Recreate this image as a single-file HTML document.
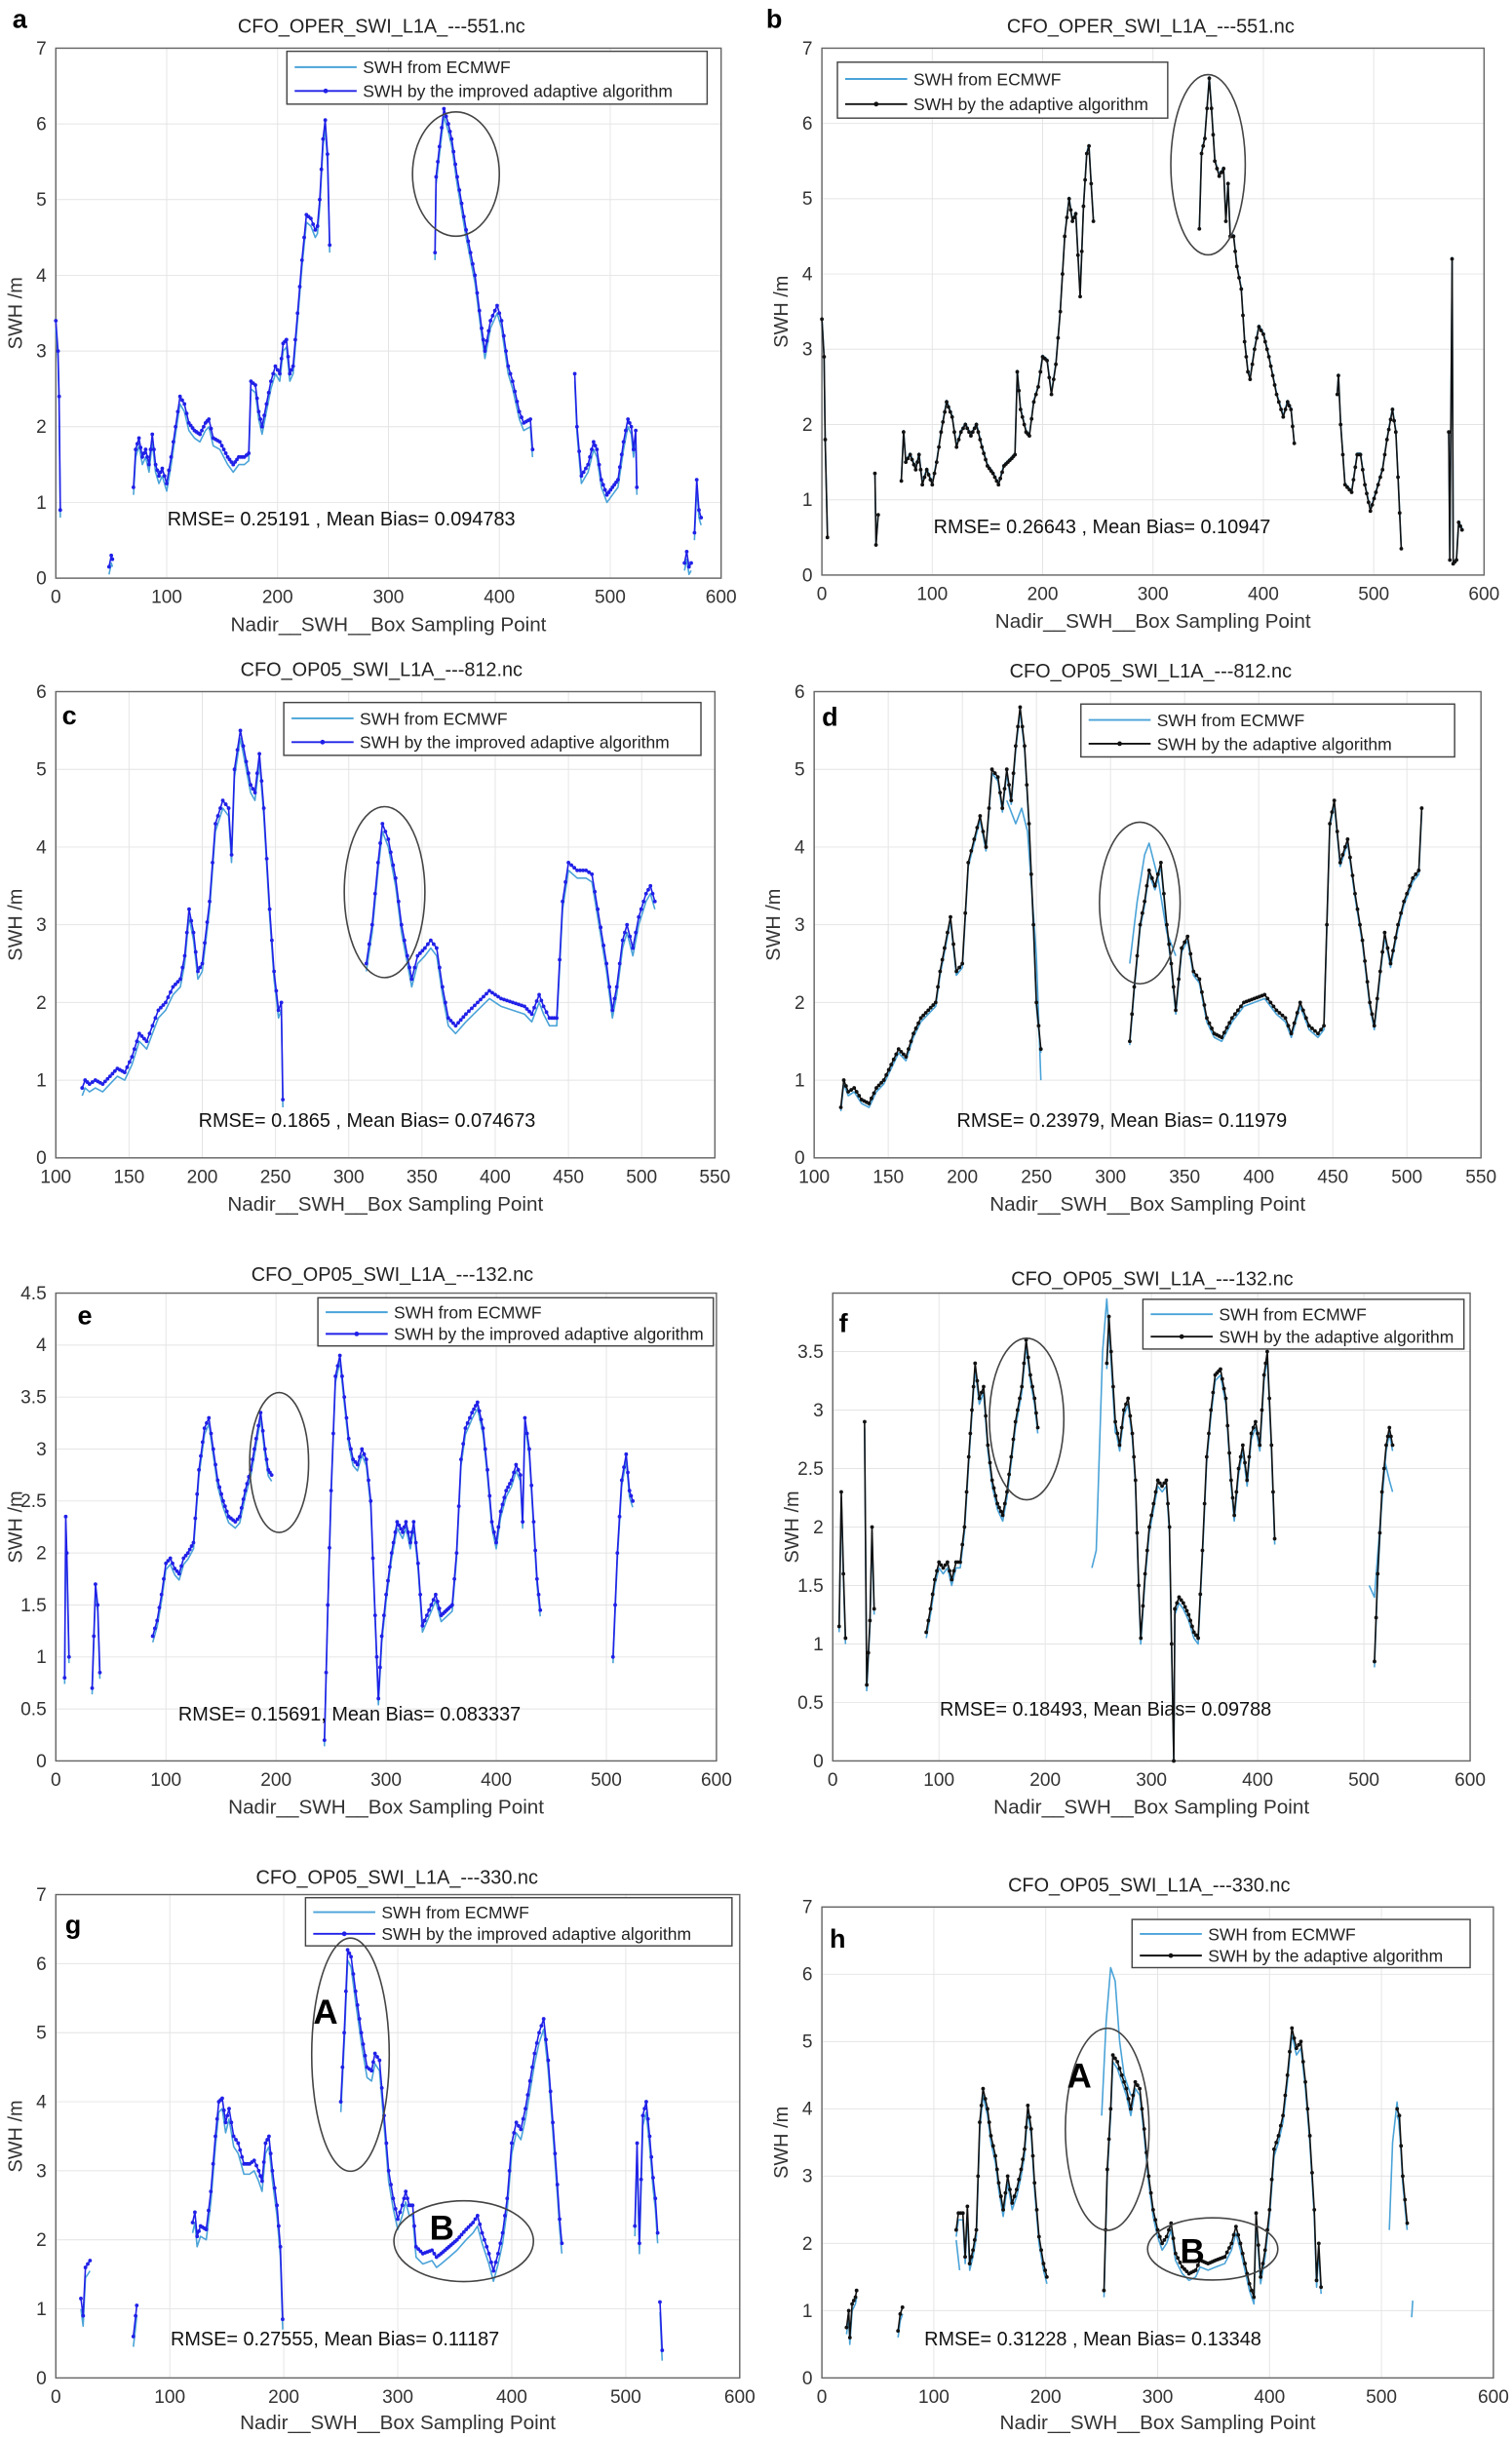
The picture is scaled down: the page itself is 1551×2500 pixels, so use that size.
<!DOCTYPE html>
<html><head><meta charset="utf-8"><style>
html,body{margin:0;padding:0;background:#fff;}
svg{display:block;}
text{font-family:"Liberation Sans",sans-serif;}
</style></head><body>
<svg id="s" width="1551" height="2500" viewBox="0 0 975 1568" preserveAspectRatio="none" xmlns="http://www.w3.org/2000/svg"></svg>
<script>
const S=document.getElementById('s');
const NS='http://www.w3.org/2000/svg';
function el(t,a,txt){const e=document.createElementNS(NS,t);for(const k in a)e.setAttribute(k,a[k]);if(txt!=null)e.textContent=txt;S.appendChild(e);return e;}
const ECM='#4aa3d8';
function panel(p){
 const {L,R,T,B,x0,x1,y0,y1}=p;
 const X=v=>L+(v-x0)/(x1-x0)*(R-L), Y=v=>B-(v-y0)/(y1-y0)*(B-T);
 el('rect',{x:L,y:T,width:R-L,height:B-T,fill:'#fff'});
 p.xt.forEach(v=>{el('line',{x1:X(v),x2:X(v),y1:T,y2:B,stroke:'#e4e4e4','stroke-width':0.6});
   el('text',{x:X(v),y:B+16,'font-size':12,'text-anchor':'middle',fill:'#333'},String(v));});
 p.yt.forEach(v=>{el('line',{x1:L,x2:R,y1:Y(v),y2:Y(v),stroke:'#e4e4e4','stroke-width':0.6});
   el('text',{x:L-6,y:Y(v)+4,'font-size':12,'text-anchor':'end',fill:'#333'},String(v));});
 el('rect',{x:L,y:T,width:R-L,height:B-T,fill:'none',stroke:'#666','stroke-width':0.9});
 const col=p.blue?'#2020e8':'#111';
 const drawLine=(seg,c,w)=>el('polyline',{points:seg.map(q=>X(q[0]).toFixed(1)+','+Y(q[1]).toFixed(1)).join(' '),fill:'none',stroke:c,'stroke-width':w,'stroke-linejoin':'round'});
 p.d.forEach(seg=>{drawLine(seg.map(q=>[q[0],Math.max(0,q[1]-(p.bias||0.1))]),ECM,1);});
 (p.ex||[]).forEach(seg=>drawLine(seg,ECM,1));
 p.d.forEach(seg=>{drawLine(seg,col,1);
   for(let i=0;i<seg.length-1;i++){const a=seg[i],b=seg[i+1];const n=Math.max(1,Math.round((b[0]-a[0])/2));
     for(let k=0;k<n;k++){const t=k/n;el('circle',{cx:X(a[0]+(b[0]-a[0])*t),cy:Y(a[1]+(b[1]-a[1])*t),r:1.2,fill:col});}}
   const l=seg[seg.length-1];el('circle',{cx:X(l[0]),cy:Y(l[1]),r:1.2,fill:col});});
 el('text',{x:p.tx,y:p.ty,'font-size':12.5,'text-anchor':'middle',fill:'#222'},p.title);
 el('text',{x:(L+R)/2,y:Math.min(B+34,1563),'font-size':13,'text-anchor':'middle',fill:'#333'},'Nadir__SWH__Box   Sampling Point');
 el('text',{x:0,y:0,'font-size':12.5,'text-anchor':'middle',fill:'#333',transform:`translate(${L-22},${(T+B)/2}) rotate(-90)`},'SWH /m');
 el('text',{x:p.rx,y:p.ry,'font-size':12.5,fill:'#111'},p.rm);
 const g=p.lg;
 el('rect',{x:g[0],y:g[1],width:g[2]-g[0],height:g[3]-g[1],fill:'#fff',stroke:'#444','stroke-width':0.9});
 const h=(g[3]-g[1]);
 el('line',{x1:g[0]+5,x2:g[0]+45,y1:g[1]+h*0.3,y2:g[1]+h*0.3,stroke:ECM,'stroke-width':1.2});
 el('line',{x1:g[0]+5,x2:g[0]+45,y1:g[1]+h*0.75,y2:g[1]+h*0.75,stroke:col,'stroke-width':1.2});
 el('circle',{cx:g[0]+25,cy:g[1]+h*0.75,r:1.5,fill:col});
 el('text',{x:g[0]+49,y:g[1]+h*0.3+4,'font-size':11,fill:'#222'},'SWH from ECMWF');
 el('text',{x:g[0]+49,y:g[1]+h*0.75+4,'font-size':11,fill:'#222'},p.blue?'SWH by the improved adaptive algorithm':'SWH by the adaptive algorithm');
 (p.el||[]).forEach(e=>el('ellipse',{cx:e[0],cy:e[1],rx:e[2],ry:e[3],fill:'none',stroke:'#444','stroke-width':1}));
 (p.lab||[]).forEach(e=>el('text',{x:e[0],y:e[1],'font-size':e[3]||17,'font-weight':'bold',fill:'#000'},e[2]));
}
const X6=[0,100,200,300,400,500,600],Y7=[0,1,2,3,4,5,6,7];
const XC=[100,150,200,250,300,350,400,450,500,550],Y6=[0,1,2,3,4,5,6];
panel({L:36,R:465,T:31,B:372,x0:0,x1:600,y0:0,y1:7,xt:X6,yt:Y7,blue:1,title:'CFO_OPER_SWI_L1A_---551.nc',tx:246,ty:21,
 rm:'RMSE= 0.25191 , Mean Bias= 0.094783',rx:108,ry:338,lg:[185,33,456,67],el:[[294,112,28,40]],lab:[[8,18,'a',17]],
 d:[[[0,3.4],[2,3.0],[3,2.4],[4,0.9]],[[48,0.15],[50,0.3],[51,0.25]],
 [[70,1.2],[72,1.7],[75,1.85],[78,1.6],[81,1.7],[84,1.5],[87,1.9],[90,1.5],[93,1.35],[96,1.45],[100,1.25],[104,1.6],[108,2.0],[112,2.4],[116,2.3],[120,2.05],[125,1.95],[130,1.9],[135,2.05],[138,2.1],[142,1.85],[148,1.8],[155,1.6],[160,1.5],[165,1.6],[170,1.6],[174,1.65],[176,2.6],[180,2.55],[183,2.2],[186,2.0],[190,2.3],[194,2.6],[198,2.8],[202,2.7],[205,3.1],[208,3.15],[211,2.7],[214,2.8],[218,3.5],[222,4.2],[226,4.8],[230,4.75],[234,4.6],[236,4.65],[238,5.0],[241,5.8],[243,6.05],[245,5.6],[247,4.4]],
 [[342,4.3],[343,5.3],[346,5.7],[350,6.2],[354,6.0],[357,5.8],[362,5.3],[370,4.6],[378,4.0],[384,3.3],[387,3.0],[392,3.4],[398,3.6],[402,3.4],[408,2.8],[412,2.6],[418,2.2],[422,2.05],[428,2.1],[430,1.7]],
 [[468,2.7],[470,2.0],[474,1.35],[480,1.5],[485,1.8],[488,1.7],[492,1.3],[497,1.1],[502,1.2],[507,1.3],[512,1.8],[516,2.1],[519,2.0],[521,1.7],[523,1.95],[524,1.2]],
 [[567,0.2],[569,0.35],[571,0.15],[573,0.2]],[[576,0.6],[578,1.3],[580,0.9],[582,0.8]]]});
panel({L:530,R:957,T:31,B:370,x0:0,x1:600,y0:0,y1:7,xt:X6,yt:Y7,blue:0,title:'CFO_OPER_SWI_L1A_---551.nc',tx:742,ty:21,
 rm:'RMSE= 0.26643 , Mean Bias= 0.10947',rx:602,ry:343,lg:[540,40,753,76],el:[[779,106,24,58]],lab:[[494,18,'b',17]],
 d:[[[0,3.4],[2,2.9],[3,1.8],[5,0.5]],[[48,1.35],[49,0.4],[51,0.8]],
 [[72,1.25],[74,1.9],[76,1.5],[80,1.6],[85,1.4],[88,1.6],[91,1.2],[95,1.4],[100,1.2],[104,1.5],[108,1.9],[113,2.3],[118,2.1],[122,1.7],[126,1.9],[130,2.0],[135,1.85],[140,2.0],[145,1.7],[150,1.45],[155,1.35],[160,1.2],[165,1.45],[172,1.55],[175,1.6],[177,2.7],[180,2.2],[185,1.9],[188,1.85],[192,2.3],[196,2.5],[200,2.9],[204,2.85],[208,2.4],[212,2.8],[216,3.5],[220,4.5],[224,5.0],[227,4.7],[230,4.8],[234,3.7],[237,4.9],[240,5.6],[242,5.7],[244,5.2],[246,4.7]],
 [[342,4.6],[344,5.6],[347,5.8],[351,6.6],[353,6.2],[356,5.5],[360,5.3],[364,5.4],[366,4.7],[368,5.2],[370,4.5],[373,4.5],[376,4.1],[380,3.8],[383,3.1],[386,2.7],[388,2.6],[392,3.0],[396,3.3],[400,3.2],[405,2.9],[412,2.4],[418,2.1],[422,2.3],[425,2.2],[428,1.75]],
 [[467,2.4],[468,2.65],[470,2.0],[474,1.2],[480,1.1],[485,1.6],[488,1.6],[492,1.2],[497,0.85],[502,1.1],[508,1.4],[512,1.8],[517,2.2],[520,1.9],[522,1.3],[525,0.35]],
 [[568,1.9],[569,0.2],[571,4.2],[572,0.15],[575,0.2],[577,0.7],[580,0.6]]],bias:-0.02});
panel({L:36,R:461,T:445,B:745,x0:100,x1:550,y0:0,y1:6,xt:XC,yt:Y6,blue:1,title:'CFO_OP05_SWI_L1A_---812.nc',tx:246,ty:435,
 rm:'RMSE= 0.1865 , Mean Bias= 0.074673',rx:128,ry:725,lg:[183,452,452,486],el:[[248,574,26,55]],lab:[[40,466,'c',17]],
 d:[[[118,0.9],[120,1.0],[123,0.95],[127,1.0],[132,0.95],[137,1.05],[142,1.15],[147,1.1],[152,1.3],[157,1.6],[162,1.5],[166,1.7],[170,1.9],[175,2.0],[180,2.2],[185,2.3],[188,2.6],[191,3.2],[194,2.9],[197,2.4],[200,2.5],[205,3.3],[209,4.3],[214,4.6],[218,4.5],[220,3.9],[222,5.0],[226,5.5],[230,5.1],[233,4.8],[236,4.7],[239,5.2],[242,4.5],[246,3.2],[249,2.4],[252,1.9],[254,2.0],[255,0.75]],
 [[312,2.5],[316,3.0],[320,3.8],[323,4.3],[327,4.1],[332,3.6],[336,3.0],[340,2.6],[343,2.3],[347,2.6],[352,2.7],[356,2.8],[360,2.7],[364,2.2],[368,1.8],[373,1.7],[380,1.85],[388,2.0],[396,2.15],[404,2.05],[412,2.0],[420,1.95],[425,1.85],[430,2.1],[433,1.95],[437,1.8],[442,1.8],[446,3.3],[450,3.8],[456,3.7],[462,3.7],[466,3.65],[470,3.2],[476,2.5],[480,1.9],[483,2.2],[487,2.8],[490,3.0],[494,2.7],[498,3.1],[503,3.4],[506,3.5],[509,3.3]]]});
panel({L:525,R:955,T:445,B:745,x0:100,x1:550,y0:0,y1:6,xt:XC,yt:Y6,blue:0,title:'CFO_OP05_SWI_L1A_---812.nc',tx:742,ty:436,
 rm:'RMSE= 0.23979, Mean Bias= 0.11979',rx:617,ry:725,lg:[697,453,938,487],el:[[735,581,26,52]],lab:[[530,467,'d',17]],
 ex:[[[313,2.5],[318,3.3],[323,3.9],[326,4.05],[332,3.6],[338,2.9],[344,2.6]],[[230,4.6],[236,4.3],[240,4.5],[244,4.2],[250,2.6],[253,1.0]]],
 d:[[[118,0.65],[120,1.0],[123,0.85],[127,0.9],[132,0.75],[137,0.7],[142,0.9],[147,1.0],[152,1.2],[157,1.4],[162,1.3],[167,1.6],[172,1.8],[177,1.9],[182,2.0],[185,2.4],[188,2.7],[192,3.1],[196,2.4],[200,2.5],[204,3.8],[208,4.1],[212,4.4],[216,4.0],[220,5.0],[224,4.9],[227,4.5],[230,5.0],[233,4.6],[236,5.3],[239,5.8],[242,5.3],[245,4.3],[248,3.0],[250,2.0],[253,1.4]],
 [[313,1.5],[316,2.2],[320,3.0],[323,3.3],[326,3.7],[330,3.5],[334,3.8],[338,3.0],[341,2.5],[344,1.9],[348,2.7],[352,2.85],[356,2.4],[360,2.3],[365,1.8],[370,1.6],[375,1.55],[382,1.8],[390,2.0],[397,2.05],[404,2.1],[412,1.9],[418,1.8],[422,1.6],[428,2.0],[434,1.7],[440,1.6],[444,1.7],[448,4.3],[451,4.6],[455,3.8],[460,4.1],[465,3.4],[470,2.8],[475,2.0],[478,1.7],[482,2.4],[485,2.9],[489,2.5],[494,3.0],[498,3.3],[504,3.6],[508,3.7],[510,4.5]]],bias:0.05});
panel({L:36,R:462,T:832,B:1133,x0:0,x1:600,y0:0,y1:4.5,xt:X6,yt:[0,0.5,1,1.5,2,2.5,3,3.5,4,4.5],blue:1,title:'CFO_OP05_SWI_L1A_---132.nc',tx:253,ty:824,
 rm:'RMSE= 0.15691, Mean Bias= 0.083337',rx:115,ry:1107,lg:[205,835,460,866],el:[[180,941,19,45]],lab:[[50,852,'e',17]],
 d:[[[8,0.8],[9,2.35],[10,2.0],[12,1.0]],[[33,0.7],[36,1.7],[38,1.5],[40,0.85]],
 [[88,1.2],[92,1.35],[96,1.6],[100,1.9],[104,1.95],[108,1.85],[112,1.8],[116,1.95],[120,2.0],[125,2.1],[130,2.8],[135,3.2],[139,3.3],[143,3.0],[147,2.7],[152,2.5],[157,2.35],[163,2.3],[167,2.35],[172,2.6],[177,2.8],[182,3.1],[186,3.35],[190,3.0],[193,2.8],[196,2.75]],
 [[244,0.2],[247,1.5],[250,2.6],[254,3.7],[258,3.9],[262,3.5],[266,3.1],[270,2.9],[274,2.85],[278,3.0],[282,2.9],[286,2.5],[290,1.4],[293,0.6],[296,1.2],[300,1.6],[305,2.0],[310,2.3],[315,2.2],[318,2.3],[322,2.1],[325,2.3],[329,1.9],[333,1.3],[337,1.4],[341,1.5],[345,1.6],[350,1.4],[355,1.45],[360,1.5],[364,2.0],[368,2.9],[372,3.2],[378,3.35],[383,3.45],[388,3.2],[392,2.8],[396,2.3],[400,2.1],[404,2.4],[409,2.6],[414,2.7],[418,2.85],[422,2.75],[424,2.3],[426,3.3],[430,3.0],[434,2.3],[437,1.75],[440,1.45]],
 [[506,1.0],[510,2.0],[514,2.7],[518,2.95],[521,2.6],[524,2.5]]],bias:0.06});
panel({L:537,R:948,T:832,B:1133,x0:0,x1:600,y0:0,y1:4,xt:X6,yt:[0,0.5,1,1.5,2,2.5,3,3.5],blue:0,title:'CFO_OP05_SWI_L1A_---132.nc',tx:743,ty:827,
 rm:'RMSE= 0.18493, Mean Bias= 0.09788',rx:606,ry:1104,lg:[737,836,944,868],el:[[662,913,24,52]],lab:[[541,857,'f',17]],
 ex:[[[244,1.65],[248,1.8],[254,3.5],[258,3.95],[262,3.4],[266,2.8]],[[505,1.5],[510,1.4],[515,2.0],[520,2.55],[524,2.4],[527,2.3]]],
 d:[[[6,1.15],[8,2.3],[10,1.6],[12,1.05]],[[30,2.9],[32,0.65],[35,1.2],[37,2.0],[39,1.3]],
 [[88,1.1],[92,1.3],[96,1.55],[100,1.7],[104,1.65],[108,1.7],[112,1.55],[116,1.7],[120,1.7],[124,2.0],[128,2.6],[131,3.0],[134,3.4],[138,3.1],[142,3.2],[146,2.7],[150,2.4],[155,2.2],[160,2.1],[164,2.3],[168,2.6],[172,2.9],[178,3.2],[182,3.6],[186,3.3],[190,3.1],[193,2.85]],
 [[258,3.4],[260,3.8],[262,3.5],[266,2.9],[270,2.7],[274,3.0],[278,3.1],[282,2.8],[285,2.4],[288,1.5],[290,1.05],[294,1.6],[298,2.0],[302,2.2],[306,2.4],[310,2.35],[314,2.4],[317,2.0],[319,1.0],[321,0],[322,1.3],[326,1.4],[330,1.35],[335,1.25],[340,1.1],[344,1.05],[348,1.8],[352,2.6],[356,3.0],[360,3.3],[365,3.35],[370,3.1],[375,2.4],[378,2.1],[382,2.5],[386,2.7],[390,2.4],[394,2.8],[398,2.9],[402,2.7],[406,3.3],[409,3.5],[413,2.7],[416,1.9]],
 [[510,0.85],[513,1.6],[517,2.3],[521,2.7],[524,2.85],[527,2.7]]],bias:0.05});
panel({L:36,R:477,T:1219,B:1530,x0:0,x1:600,y0:0,y1:7,xt:X6,yt:Y7,blue:1,title:'CFO_OP05_SWI_L1A_---330.nc',tx:256,ty:1212,
 rm:'RMSE= 0.27555, Mean Bias= 0.11187',rx:110,ry:1509,lg:[197,1221,472,1252],el:[[226,1322,25,75],[299,1442,45,26]],lab:[[42,1244,'g',17],[202,1302,'A',22],[277,1441,'B',22]],
 d:[[[22,1.15],[24,0.9],[26,1.6],[28,1.65],[30,1.7]],[[68,0.6],[70,0.9],[71,1.05]],
 [[120,2.25],[122,2.4],[124,2.05],[127,2.2],[132,2.15],[136,2.7],[140,3.5],[143,4.0],[146,4.05],[149,3.7],[152,3.9],[156,3.5],[160,3.4],[165,3.1],[170,3.1],[174,3.15],[178,3.0],[181,2.85],[184,3.4],[187,3.5],[190,3.0],[194,2.5],[197,1.9],[199,0.85]],
 [[250,4.0],[253,5.0],[256,6.2],[259,6.1],[263,5.6],[268,5.0],[273,4.5],[277,4.45],[280,4.7],[284,4.6],[288,3.8],[292,3.0],[296,2.6],[300,2.3],[304,2.5],[307,2.7],[310,2.5],[313,2.5],[316,1.9],[322,1.8],[330,1.85],[334,1.75],[338,1.8],[345,1.9],[352,2.0],[360,2.15],[366,2.25],[370,2.35],[374,2.1],[380,1.8],[384,1.55],[388,1.8],[392,2.1],[396,2.6],[400,3.4],[404,3.7],[408,3.6],[412,3.9],[416,4.3],[420,4.7],[424,5.0],[428,5.2],[432,4.6],[436,3.7],[440,2.8],[442,2.3],[444,1.95]],
 [[508,2.2],[510,3.4],[512,1.95],[515,3.8],[518,4.0],[521,3.5],[524,2.9],[526,2.6],[528,2.1]],[[530,1.1],[532,0.4]]],bias:0.15});
panel({L:530,R:963,T:1227,B:1530,x0:0,x1:600,y0:0,y1:7,xt:X6,yt:Y7,blue:0,title:'CFO_OP05_SWI_L1A_---330.nc',tx:741,ty:1217,
 rm:'RMSE= 0.31228 , Mean Bias= 0.13348',rx:596,ry:1509,lg:[730,1235,948,1266],el:[[714,1370,27,65],[782,1447,42,20]],lab:[[535,1253,'h',17],[688,1343,'A',22],[761,1456,'B',22]],
 ex:[[[250,3.9],[254,5.3],[258,6.1],[262,5.9],[266,5.0],[270,4.5],[276,4.2]],[[507,2.2],[510,3.5],[514,4.1],[517,3.5]],[[120,2.05],[123,1.6]],[[527,0.9],[528,1.15]]],
 d:[[[22,0.75],[24,1.0],[25,0.6],[27,1.1],[30,1.2],[31,1.3]],[[68,0.7],[70,0.95],[72,1.05]],
 [[120,2.2],[122,2.45],[126,2.45],[128,1.8],[130,2.55],[132,1.7],[135,1.9],[138,2.2],[141,3.8],[144,4.3],[148,4.0],[151,3.6],[155,3.3],[158,2.9],[162,2.5],[166,3.0],[170,2.6],[174,2.8],[178,3.1],[181,3.4],[184,4.05],[187,3.7],[190,2.9],[194,2.1],[198,1.7],[201,1.5]],
 [[252,1.3],[255,3.1],[258,4.0],[260,4.8],[264,4.7],[268,4.5],[272,4.3],[276,4.0],[280,4.4],[284,4.3],[288,3.7],[292,3.0],[296,2.5],[300,2.2],[304,2.0],[308,2.1],[312,2.3],[316,1.85],[322,1.65],[328,1.55],[334,1.6],[338,1.75],[345,1.7],[352,1.75],[360,1.8],[366,2.0],[370,2.25],[374,2.0],[378,1.7],[382,1.4],[386,1.2],[388,2.45],[392,1.5],[396,1.9],[400,2.5],[404,3.4],[408,3.6],[412,3.9],[416,4.5],[420,5.2],[424,4.9],[428,5.0],[432,4.4],[436,3.6],[440,2.5],[442,1.45],[444,2.0],[446,1.35]],
 [[514,4.0],[516,3.9],[519,3.0],[523,2.3]]],bias:0.0});
</script>
</body></html>
